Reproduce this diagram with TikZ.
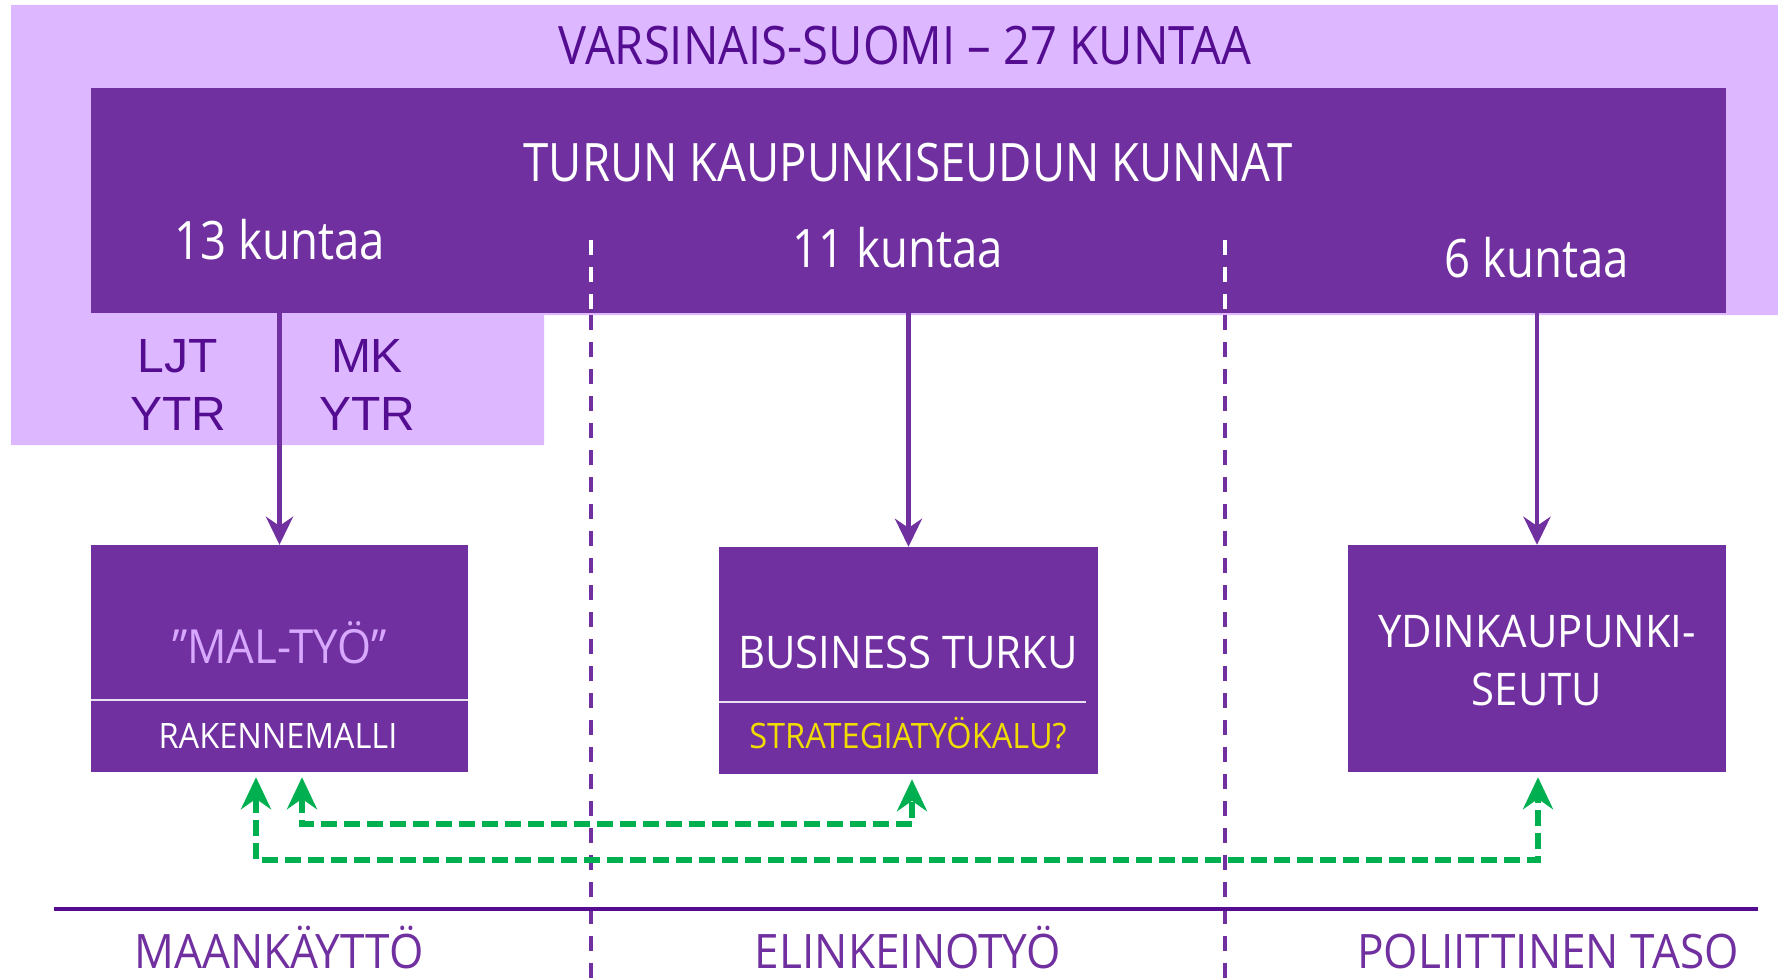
\documentclass[tikz,border=0pt]{standalone}
\usepackage{fontspec}
\setmainfont{Open Sans}[FakeStretch=0.86]
\newfontfamily\widefont{Open Sans}[FakeStretch=0.93]
\newfontfamily\titlefont{Open Sans}[FakeStretch=0.89]
\newfontfamily\arialfont{Liberation Sans}
\usetikzlibrary{arrows.meta}
\definecolor{lavender}{RGB}{221,183,255}
\definecolor{violet}{RGB}{112,48,160}
\definecolor{deepviolet}{RGB}{84,13,145}
\definecolor{paleviolet}{RGB}{216,168,255}
\definecolor{gold}{RGB}{240,220,0}
\definecolor{leafgreen}{RGB}{0,176,80}

\tikzset{
  unitbox/.style={fill=violet, draw=none, inner sep=0pt},
  txt/.style={inner sep=0pt, anchor=base},
  bigtxt/.style={txt, font=\fontsize{53}{60}\selectfont},
  midtxt/.style={txt, font=\widefont\fontsize{45}{52}\selectfont},
  smalltxt/.style={txt, font=\widefont\fontsize{35}{40}\selectfont},
  axistxt/.style={txt, font=\widefont\fontsize{47.5}{54}\selectfont, text=violet},
  sidetxt/.style={txt, font=\arialfont\fontsize{48}{54}\selectfont, text=deepviolet},
  feed/.style={draw=violet, line width=4.5pt, -{Stealth[length=28pt,width=27pt]}},
  link/.style={draw=leafgreen, line width=6pt, dash pattern=on 16pt off 7pt,
    {Stealth[length=32pt,width=30pt]}-{Stealth[length=32pt,width=30pt]}},
  sepline/.style={line width=4pt, dash pattern=on 15pt off 12pt}
}

\begin{document}
\begin{tikzpicture}[x=1pt,y=-1pt]
  \useasboundingbox (0,0) rectangle (1778,979);

  % Varsinais-Suomi background
  \fill[lavender] (11,5) -- (1778,5) -- (1778,315) -- (544,315) -- (544,445) -- (11,445) -- cycle;
  \node[txt, text=deepviolet, font=\titlefont\fontsize{53}{60}\selectfont] (vs) at (905,65) {VARSINAIS-SUOMI – 27 KUNTAA};

  % Turun kaupunkiseudun kunnat
  \node[unitbox, minimum width=1635pt, minimum height=225pt] (kunnat) at (908.5,200.5) {};
  \node[bigtxt, text=white] (kunnattxt) at (908,182) {TURUN KAUPUNKISEUDUN KUNNAT};
  \node[bigtxt, text=white] (k13) at (280,259) {13 kuntaa};
  \node[bigtxt, text=white] (k11) at (898,267) {11 kuntaa};
  \node[bigtxt, text=white] (k6) at (1537,277) {6 kuntaa};

  % LJT / MK
  \node[sidetxt] (ljt) at (178,372) {LJT};
  \node[sidetxt] (ljtytr) at (178,430) {YTR};
  \node[sidetxt] (mk) at (367,372) {MK};
  \node[sidetxt] (mkytr) at (367,430) {YTR};

  % column separators
  \draw[sepline, white] (591,240) -- (591,313);
  \draw[sepline, violet] (591,315) -- (591,979);
  \draw[sepline, white] (1225,240) -- (1225,313);
  \draw[sepline, violet] (1225,315) -- (1225,979);

  % Box 1: MAL-tyo
  \node[unitbox, minimum width=377pt, minimum height=227pt] (mal) at (279.5,658.5) {};
  \draw[white!85!violet, line width=2pt] (mal.west |- 0,700) -- (mal.east |- 0,700);
  \node[midtxt, text=paleviolet, font=\widefont\fontsize{47}{52}\selectfont] (maltxt) at (279.5,663) {”MAL-TYÖ”};
  \node[smalltxt, text=white] (rakenne) at (278,748) {RAKENNEMALLI};

  % Box 2: Business Turku
  \node[unitbox, minimum width=379pt, minimum height=227pt] (bt) at (908.5,660.5) {};
  \draw[white!85!violet, line width=2pt] (bt.west |- 0,702) -- (1086,702);
  \node[midtxt, text=white] (bttxt) at (908,668) {BUSINESS TURKU};
  \node[smalltxt, text=gold] (strat) at (908,748) {STRATEGIATYÖKALU?};

  % Box 3: Ydinkaupunkiseutu
  \node[unitbox, minimum width=378pt, minimum height=227pt] (ys) at (1537,658.5) {};
  \node[midtxt, text=white] (ystxt) at (1537,647) {YDINKAUPUNKI-};
  \node[midtxt, text=white] (ystxt2) at (1537,705) {SEUTU};

  % arrows from the municipalities
  \draw[feed] (kunnat.south -| mal.north) -- (mal.north);
  \draw[feed] (kunnat.south -| bt.north) -- (bt.north);
  \draw[feed] (kunnat.south -| ys.north) -- (ys.north);

  % green links
  \draw[link] ([shift={(22.5,5)}]mal.south) -- ++(0,47) -| ([shift={(3.5,5)}]bt.south);
  \draw[link] ([shift={(-23.5,5)}]mal.south) -- ++(0,83) -| ([shift={(1,5)}]ys.south);

  % bottom axis
  \draw[deepviolet, line width=4pt] (54,909) -- (1758,909);
  \node[axistxt] (maa) at (279,968) {MAANKÄYTTÖ};
  \node[axistxt] (elin) at (908,968) {ELINKEINOTYÖ};
  \node[axistxt] (pol) at (1548,968) {POLIITTINEN TASO};
\end{tikzpicture}
\end{document}
